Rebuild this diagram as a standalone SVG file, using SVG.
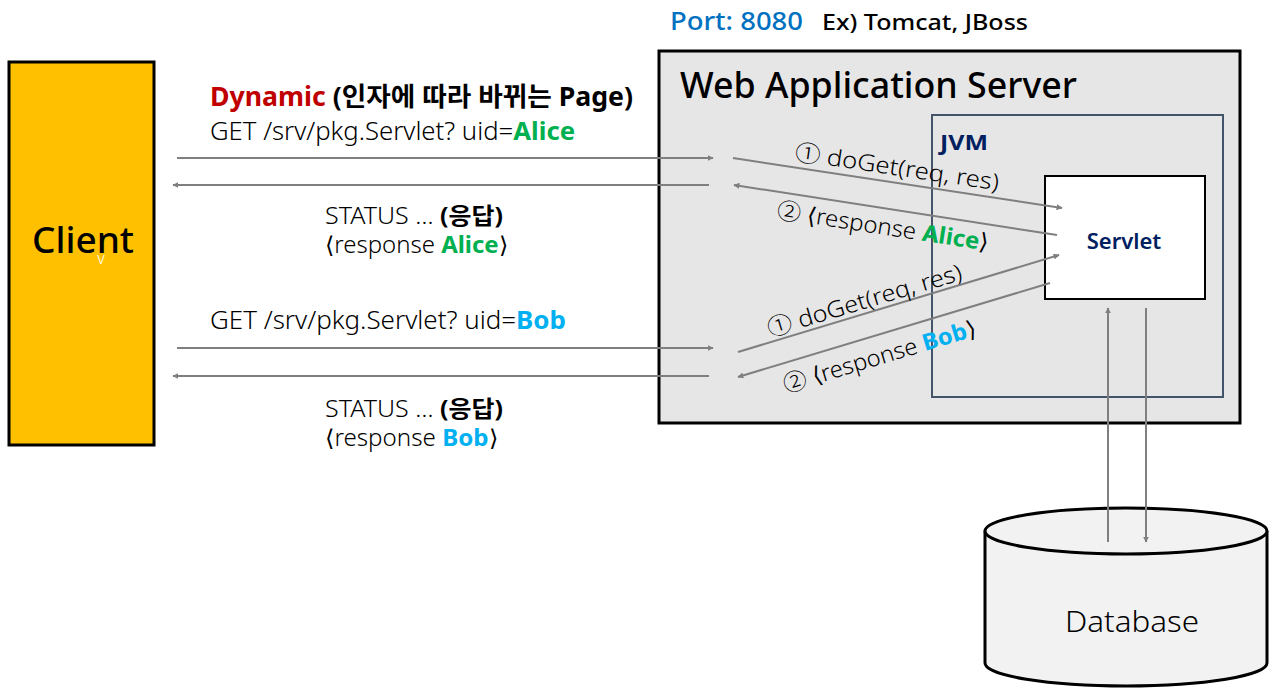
<svg xmlns="http://www.w3.org/2000/svg" width="1280" height="693" viewBox="0 0 1280 693">
<defs>
<marker id="ah" viewBox="0 0 10 10" refX="9" refY="5" markerWidth="6" markerHeight="6" orient="auto-start-reverse" markerUnits="userSpaceOnUse">
<path d="M0,0 L10,5 L0,10 z" fill="#7f7f7f"/>
</marker>
<style>
text{font-family:"Noto Sans","Noto Sans CJK KR",sans-serif;}
.lt{font-weight:300;}
.b{font-weight:700;}
.arr{stroke:#7f7f7f;stroke-width:2;fill:none;marker-end:url(#ah);}
.al{fill:#00B050;font-weight:700;}
.bo{fill:#00B0F0;font-weight:700;}
</style>
</defs>
<rect width="1280" height="693" fill="#ffffff"/>

<g id="client">
<rect x="9" y="62" width="145" height="383" fill="#FFC000" stroke="#000" stroke-width="3"/>
<text x="83" y="253" font-size="37" text-anchor="middle" fill="#000" style="font-weight:500">Client</text>
<text x="101" y="264" font-size="16" text-anchor="middle" fill="#fff" class="lt">v</text>
</g>

<g id="port-label">
<text x="670" y="30" font-size="26" fill="#0070C0" style="font-weight:500" textLength="133" lengthAdjust="spacingAndGlyphs">Port: 8080</text>
<text x="822" y="30" font-size="22" fill="#000" style="font-weight:500" textLength="206" lengthAdjust="spacingAndGlyphs">Ex) Tomcat, JBoss</text>
</g>

<g id="was">
<rect x="659" y="51" width="581" height="372" fill="#E7E6E6" stroke="#000" stroke-width="3"/>
<text x="680" y="98" font-size="36" fill="#000" style="font-weight:500" textLength="397" lengthAdjust="spacingAndGlyphs">Web Application Server</text>
</g>

<g id="jvm">
<rect x="932" y="115" width="291" height="282" fill="none" stroke="#44546A" stroke-width="2"/>
<text x="940" y="150" font-size="22" class="b" fill="#002060" textLength="48" lengthAdjust="spacingAndGlyphs">JVM</text>
</g>

<g id="servlet">
<rect x="1045" y="176" width="160" height="123" fill="#fff" stroke="#000" stroke-width="2"/>
<text x="1124" y="249" font-size="22" text-anchor="middle" fill="#002060" style="font-weight:600">Servlet</text>
</g>

<g id="database">
<path d="M985,531 L985,663 A141,23 0 0 0 1267,663 L1267,531" fill="#F2F2F2" stroke="#000" stroke-width="3"/>
<ellipse cx="1126" cy="531" rx="141" ry="23" fill="#F2F2F2" stroke="#000" stroke-width="3"/>
<text x="1132" y="632" font-size="30" text-anchor="middle" class="lt" fill="#000" textLength="134" lengthAdjust="spacingAndGlyphs">Database</text>
</g>

<g id="connectors">
<line class="arr" x1="177" y1="158" x2="713" y2="158"/>
<line class="arr" x1="709" y1="185" x2="173" y2="185"/>
<line class="arr" x1="177" y1="348" x2="713" y2="348"/>
<line class="arr" x1="709" y1="376" x2="173" y2="376"/>
<line class="arr" x1="733" y1="158" x2="1062" y2="208"/>
<line class="arr" x1="1057" y1="235" x2="734" y2="185"/>
<line class="arr" x1="738" y1="352" x2="1059" y2="255"/>
<line class="arr" x1="1050" y1="283" x2="738" y2="377"/>
<line class="arr" x1="1108" y1="542" x2="1108" y2="308"/>
<line class="arr" x1="1146" y1="308" x2="1146" y2="542"/>
</g>

<g id="labels">
<text x="210" y="106" font-size="26" class="b" textLength="423" lengthAdjust="spacingAndGlyphs"><tspan fill="#C00000">Dynamic</tspan><tspan fill="#000"> (인자에 따라 바뀌는 Page)</tspan></text>
<text x="210" y="140" font-size="25" class="lt" fill="#000" textLength="365" lengthAdjust="spacingAndGlyphs">GET /srv/pkg.Servlet? uid=<tspan class="al">Alice</tspan></text>
<text x="325" y="224" font-size="23" class="lt" fill="#000" textLength="178" lengthAdjust="spacingAndGlyphs">STATUS … <tspan class="b">(응답)</tspan></text>
<text x="325" y="253" font-size="23" class="lt" fill="#000" textLength="183" lengthAdjust="spacingAndGlyphs">⟨response <tspan class="al">Alice</tspan>⟩</text>
<text x="210" y="329" font-size="25" class="lt" fill="#000" textLength="356" lengthAdjust="spacingAndGlyphs">GET /srv/pkg.Servlet? uid=<tspan class="bo">Bob</tspan></text>
<text x="325" y="417" font-size="23" class="lt" fill="#000" textLength="178" lengthAdjust="spacingAndGlyphs">STATUS … <tspan class="b">(응답)</tspan></text>
<text x="325" y="446" font-size="23" class="lt" fill="#000" textLength="173" lengthAdjust="spacingAndGlyphs">⟨response <tspan class="bo">Bob</tspan>⟩</text>

<text x="0" y="0" font-size="23" class="lt" fill="#000" transform="translate(794,160) rotate(8.5)" textLength="206" lengthAdjust="spacingAndGlyphs">① doGet(req, res)</text>
<text x="0" y="0" font-size="23" class="lt" fill="#000" transform="translate(776,218) rotate(8.8)" textLength="214" lengthAdjust="spacingAndGlyphs">② ⟨response <tspan class="al">Alice</tspan>⟩</text>
<text x="0" y="0" font-size="23" class="lt" fill="#000" transform="translate(770,337) rotate(-16.6)" textLength="202" lengthAdjust="spacingAndGlyphs">① doGet(req, res)</text>
<text x="0" y="0" font-size="23" class="lt" fill="#000" transform="translate(786,393) rotate(-16.8)" textLength="200" lengthAdjust="spacingAndGlyphs">② ⟨response <tspan class="bo">Bob</tspan>⟩</text>
</g>
</svg>
